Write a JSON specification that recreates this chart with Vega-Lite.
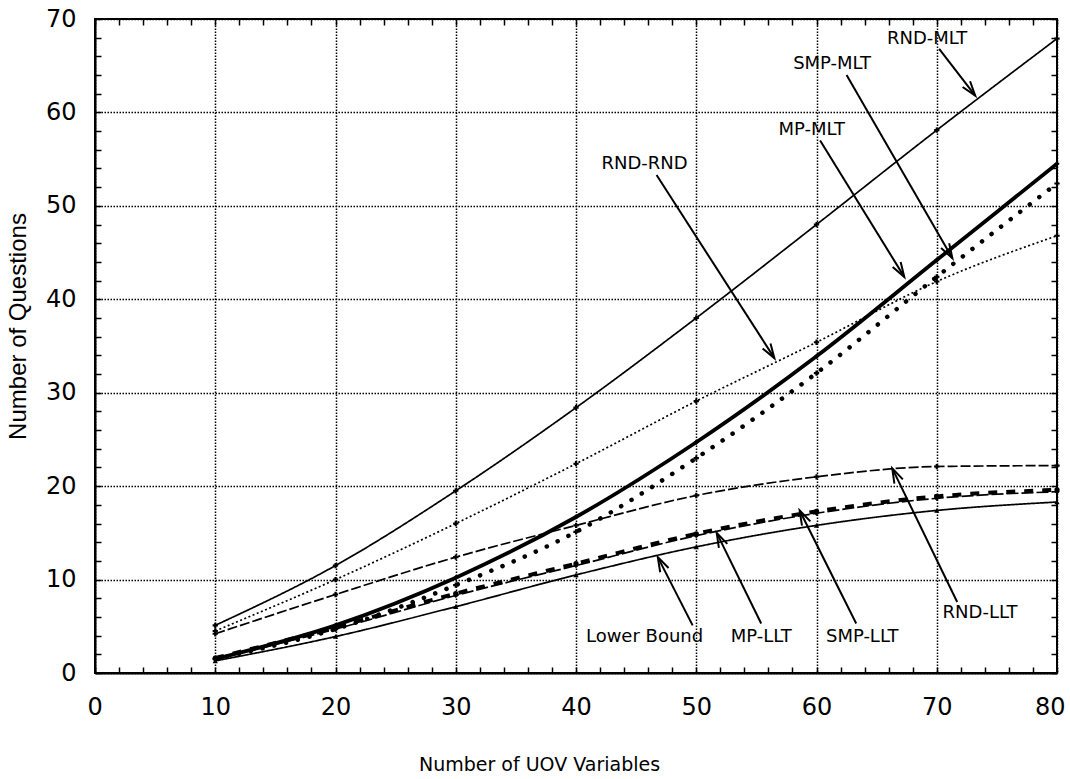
{
  "$schema": "https://vega.github.io/schema/vega-lite/v6.json",
  "width": 962,
  "height": 654,
  "autosize": "none",
  "padding": {"left": 95, "top": 19, "right": 13, "bottom": 106},
  "background": "white",
  "config": {
    "view": {"stroke": "black", "strokeWidth": 2},
    "axis": {
      "domainColor": "black", "domainWidth": 2,
      "tickColor": "black", "tickWidth": 1.5,
      "labelColor": "black", "titleColor": "black",
      "labelFont": "DejaVu Sans", "labelFontSize": 24,
      "labelFlush": false,
      "titleFontWeight": "normal"
    }
  },
  "datasets": {
    "curves": [
      {"series": "RND-MLT", "x": 10, "y": 5.1}, {"series": "RND-MLT", "x": 20, "y": 11.5}, {"series": "RND-MLT", "x": 30, "y": 19.5}, {"series": "RND-MLT", "x": 40, "y": 28.4},
      {"series": "RND-MLT", "x": 50, "y": 38.0}, {"series": "RND-MLT", "x": 60, "y": 48.0}, {"series": "RND-MLT", "x": 70, "y": 58.1}, {"series": "RND-MLT", "x": 80, "y": 67.9},
      {"series": "RND-RND", "x": 10, "y": 4.5}, {"series": "RND-RND", "x": 20, "y": 10.0}, {"series": "RND-RND", "x": 30, "y": 16.0}, {"series": "RND-RND", "x": 40, "y": 22.4},
      {"series": "RND-RND", "x": 50, "y": 29.1}, {"series": "RND-RND", "x": 60, "y": 35.4}, {"series": "RND-RND", "x": 70, "y": 41.9}, {"series": "RND-RND", "x": 80, "y": 46.8},
      {"series": "RND-LLT", "x": 10, "y": 4.2}, {"series": "RND-LLT", "x": 20, "y": 8.4}, {"series": "RND-LLT", "x": 30, "y": 12.4}, {"series": "RND-LLT", "x": 40, "y": 15.8},
      {"series": "RND-LLT", "x": 50, "y": 19.0}, {"series": "RND-LLT", "x": 60, "y": 21.0}, {"series": "RND-LLT", "x": 70, "y": 22.1}, {"series": "RND-LLT", "x": 80, "y": 22.2},
      {"series": "MP-MLT", "x": 10, "y": 1.5}, {"series": "MP-MLT", "x": 20, "y": 5.1}, {"series": "MP-MLT", "x": 30, "y": 10.2}, {"series": "MP-MLT", "x": 40, "y": 16.7},
      {"series": "MP-MLT", "x": 50, "y": 24.7}, {"series": "MP-MLT", "x": 60, "y": 33.9}, {"series": "MP-MLT", "x": 70, "y": 44.2}, {"series": "MP-MLT", "x": 80, "y": 54.5},
      {"series": "SMP-MLT", "x": 10, "y": 1.5}, {"series": "SMP-MLT", "x": 20, "y": 4.7}, {"series": "SMP-MLT", "x": 30, "y": 9.4}, {"series": "SMP-MLT", "x": 40, "y": 15.1},
      {"series": "SMP-MLT", "x": 50, "y": 23.0}, {"series": "SMP-MLT", "x": 60, "y": 32.1}, {"series": "SMP-MLT", "x": 70, "y": 42.4}, {"series": "SMP-MLT", "x": 80, "y": 52.4},
      {"series": "SMP-LLT", "x": 10, "y": 1.6}, {"series": "SMP-LLT", "x": 20, "y": 4.9}, {"series": "SMP-LLT", "x": 30, "y": 8.5}, {"series": "SMP-LLT", "x": 40, "y": 11.7},
      {"series": "SMP-LLT", "x": 50, "y": 14.9}, {"series": "SMP-LLT", "x": 60, "y": 17.3}, {"series": "SMP-LLT", "x": 70, "y": 18.9}, {"series": "SMP-LLT", "x": 80, "y": 19.6},
      {"series": "MP-LLT", "x": 10, "y": 1.5}, {"series": "MP-LLT", "x": 20, "y": 4.7}, {"series": "MP-LLT", "x": 30, "y": 8.3}, {"series": "MP-LLT", "x": 40, "y": 11.5},
      {"series": "MP-LLT", "x": 50, "y": 14.7}, {"series": "MP-LLT", "x": 60, "y": 17.1}, {"series": "MP-LLT", "x": 70, "y": 18.7}, {"series": "MP-LLT", "x": 80, "y": 19.4},
      {"series": "Lower Bound", "x": 10, "y": 1.3}, {"series": "Lower Bound", "x": 20, "y": 3.9}, {"series": "Lower Bound", "x": 30, "y": 7.1}, {"series": "Lower Bound", "x": 40, "y": 10.5},
      {"series": "Lower Bound", "x": 50, "y": 13.5}, {"series": "Lower Bound", "x": 60, "y": 15.8}, {"series": "Lower Bound", "x": 70, "y": 17.4}, {"series": "Lower Bound", "x": 80, "y": 18.3}
    ],
    "notes": [
      {"label": "RND-MLT", "tx": 69.2, "ty": 67.9, "x1": 70.2, "y1": 66.8, "x2": 73.2, "y2": 61.8},
      {"label": "SMP-MLT", "tx": 61.3, "ty": 65.2, "x1": 62.5, "y1": 64.0, "x2": 71.3, "y2": 44.4},
      {"label": "MP-MLT", "tx": 59.6, "ty": 58.1, "x1": 60.3, "y1": 57.0, "x2": 67.3, "y2": 42.4},
      {"label": "RND-RND", "tx": 45.7, "ty": 54.5, "x1": 46.7, "y1": 53.3, "x2": 56.5, "y2": 33.7},
      {"label": "Lower Bound", "tx": 45.7, "ty": 3.85, "x1": 49.7, "y1": 5.1, "x2": 46.8, "y2": 12.4},
      {"label": "MP-LLT", "tx": 55.4, "ty": 3.85, "x1": 55.4, "y1": 5.3, "x2": 51.7, "y2": 15.0},
      {"label": "SMP-LLT", "tx": 63.8, "ty": 3.85, "x1": 63.3, "y1": 5.3, "x2": 58.6, "y2": 17.4},
      {"label": "RND-LLT", "tx": 73.6, "ty": 6.4, "x1": 71.7, "y1": 7.6, "x2": 66.3, "y2": 21.9}
    ]
  },
  "resolve": {"axis": {"x": "independent", "y": "independent"}},
  "layer": [
    {
      "data": {"name": "curves"},
      "transform": [{"filter": "indexof(['RND-MLT','RND-RND','RND-LLT','MP-LLT','Lower Bound'], datum.series) >= 0"}],
      "mark": {"type": "line", "interpolate": "monotone", "color": "black", "strokeCap": "butt", "strokeWidth": 1.7},
      "encoding": {
        "x": {
          "field": "x", "type": "quantitative",
          "scale": {"domain": [0, 80], "nice": false},
          "axis": {
            "orient": "bottom",
            "values": [0,2,4,6,8,10,12,14,16,18,20,22,24,26,28,30,32,34,36,38,40,42,44,46,48,50,52,54,56,58,60,62,64,66,68,70,72,74,76,78,80],
            "labelExpr": "datum.value % 10 === 0 ? datum.label : ''",
            "labelFlush": true, "labelFlushOffset": 8,
            "tickSize": -6, "labelPadding": 28,
            "grid": true, "gridColor": "black", "gridWidth": 1.5, "gridDash": [1.5, 1.5],
            "gridOpacity": {"condition": {"test": "datum.value % 10 === 0", "value": 1}, "value": 0},
            "title": "Number of UOV Variables", "titleFont": "DejaVu Sans", "titleFontSize": 19,
            "titlePadding": 36, "titleX": 444
          }
        },
        "y": {
          "field": "y", "type": "quantitative",
          "scale": {"domain": [0, 70], "nice": false},
          "axis": {
            "orient": "left",
            "values": [0,2,4,6,8,10,12,14,16,18,20,22,24,26,28,30,32,34,36,38,40,42,44,46,48,50,52,54,56,58,60,62,64,66,68,70],
            "labelExpr": "datum.value % 10 === 0 ? datum.label : ''",
            "tickSize": -6, "labelPadding": 25,
            "grid": true, "gridColor": "black", "gridWidth": 1.5, "gridDash": [1.5, 1.5],
            "gridOpacity": {"condition": {"test": "datum.value % 10 === 0", "value": 1}, "value": 0},
            "title": "Number of Questions", "titleFont": "Liberation Sans", "titleFontSize": 24,
            "titlePadding": 15, "titleY": 307
          }
        },
        "detail": {"field": "series"},
        "strokeDash": {
          "field": "series", "type": "nominal", "legend": null,
          "scale": {
            "domain": ["RND-MLT", "RND-RND", "RND-LLT", "MP-LLT", "Lower Bound"],
            "range": [[1, 0], [2, 2.5], [10, 3], [12, 3], [1, 0]]
          }
        }
      }
    },
    {
      "data": {"name": "curves"},
      "transform": [{"filter": "datum.series === 'MP-MLT'"}],
      "mark": {"type": "line", "interpolate": "monotone", "color": "black", "strokeWidth": 3.8},
      "encoding": {
        "x": {"field": "x", "type": "quantitative", "axis": null},
        "y": {"field": "y", "type": "quantitative", "axis": null}
      }
    },
    {
      "data": {"name": "curves"},
      "transform": [{"filter": "datum.series === 'SMP-LLT'"}],
      "mark": {"type": "line", "interpolate": "monotone", "color": "black", "strokeWidth": 4, "strokeDash": [9, 9], "strokeCap": "butt"},
      "encoding": {
        "x": {"field": "x", "type": "quantitative", "axis": null},
        "y": {"field": "y", "type": "quantitative", "axis": null}
      }
    },
    {
      "data": {"name": "curves"},
      "transform": [{"filter": "datum.series === 'SMP-MLT'"}],
      "mark": {"type": "line", "interpolate": "monotone", "color": "black", "strokeCap": "round", "strokeWidth": 4.5, "strokeDash": [0.1, 12]},
      "encoding": {
        "x": {"field": "x", "type": "quantitative", "axis": null},
        "y": {"field": "y", "type": "quantitative", "axis": null}
      }
    },
    {
      "data": {"name": "curves"},
      "mark": {"type": "point", "filled": true, "color": "black", "size": 28, "opacity": 1},
      "encoding": {
        "x": {"field": "x", "type": "quantitative", "axis": null},
        "y": {"field": "y", "type": "quantitative", "axis": null},
        "shape": {
          "field": "series", "type": "nominal", "legend": null,
          "scale": {
            "domain": ["RND-MLT", "RND-RND", "RND-LLT", "MP-MLT", "SMP-MLT", "SMP-LLT", "MP-LLT", "Lower Bound"],
            "range": ["cross", "cross", "cross", "diamond", "cross", "circle", "diamond", "triangle-up"]
          }
        }
      }
    },
    {
      "data": {"name": "notes"},
      "mark": {"type": "rule", "color": "black", "strokeWidth": 2},
      "encoding": {
        "x": {"field": "x1", "type": "quantitative", "axis": null},
        "y": {"field": "y1", "type": "quantitative", "axis": null},
        "x2": {"field": "x2"},
        "y2": {"field": "y2"}
      }
    },
    {
      "data": {"name": "notes"},
      "transform": [{"calculate": "atan2((datum.x2 - datum.x1) * 12.025, (datum.y2 - datum.y1) * 9.343) * 180 / PI", "as": "ang"}],
      "mark": {"type": "point", "shape": "M-0.42,1.3L0,0L0.42,1.3", "filled": false, "color": "black", "strokeWidth": 2, "size": 500, "opacity": 1},
      "encoding": {
        "x": {"field": "x2", "type": "quantitative", "axis": null},
        "y": {"field": "y2", "type": "quantitative", "axis": null},
        "angle": {"field": "ang", "type": "quantitative", "scale": null}
      }
    },
    {
      "data": {"name": "notes"},
      "mark": {"type": "text", "font": "DejaVu Sans", "fontSize": 18, "color": "black", "align": "center", "baseline": "middle"},
      "encoding": {
        "x": {
          "field": "tx", "type": "quantitative",
          "axis": {"orient": "top", "values": [0,2,4,6,8,10,12,14,16,18,20,22,24,26,28,30,32,34,36,38,40,42,44,46,48,50,52,54,56,58,60,62,64,66,68,70,72,74,76,78,80], "labels": false, "title": null, "tickSize": -6, "domain": false, "grid": false}
        },
        "y": {
          "field": "ty", "type": "quantitative",
          "axis": {"orient": "right", "values": [0,2,4,6,8,10,12,14,16,18,20,22,24,26,28,30,32,34,36,38,40,42,44,46,48,50,52,54,56,58,60,62,64,66,68,70], "labels": false, "title": null, "tickSize": -6, "domain": false, "grid": false}
        },
        "text": {"field": "label"}
      }
    }
  ]
}
